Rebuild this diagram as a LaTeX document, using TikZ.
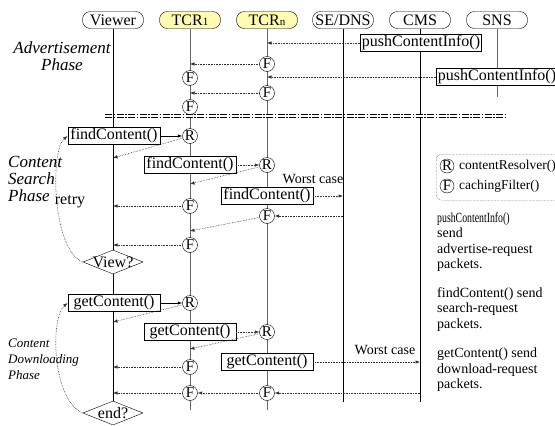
\documentclass[tikz,border=0pt]{standalone}
\usepackage{fontspec}
\setmainfont{Liberation Serif}
\usepackage{graphicx}
\usetikzlibrary{arrows.meta,positioning,calc,shapes.geometric}

\newcommand{\fsz}[1]{\fontsize{#1}{#1}\selectfont}

\begin{document}
\begin{tikzpicture}[x=1pt, y=-1pt, >={Latex[length=4.5pt,width=3.5pt]},
  head/.style={draw, rounded corners=8pt, minimum width=61pt, minimum height=17pt, inner sep=0pt, font=\fsz{16}},
  tcr/.style={head, fill=yellow!30},
  life/.style={line width=0.9pt},
  glife/.style={line width=0.9pt, black!60},
  call/.style={draw, fill=white, line width=0.8pt, minimum width=92pt, minimum height=15pt, inner sep=1.5pt, font=\fsz{16}},
  filt/.style={draw, circle, fill=white, inner sep=0pt, minimum size=15pt, font=\fsz{15}},
  msg/.style={->, densely dotted, line width=0.6pt, black!80},
  smsg/.style={->, line width=0.8pt},
  check/.style={draw, diamond, aspect=2.5, fill=white, inner sep=-2pt, minimum width=60pt, minimum height=24pt, font=\fsz{16}},
  phase/.style={font=\fsz{17}\itshape, align=left, anchor=west, inner sep=0pt},
  note/.style={font=\fontsize{14}{15.5}\selectfont, align=left, anchor=north west, inner sep=0pt}]
  \useasboundingbox (0,0) rectangle (555,426);

  % Lifelines and heads
  \node[head] (viewer) at (113,20) {Viewer};
  \node[tcr] (tcr1) at (190,20) {TCR{\fsz{11}1}};
  \node[tcr] (tcrn) at (267,20) {TCR{\fsz{11}n}};
  \node[head] (sedns) at (343,20) {SE/DNS};
  \node[head] (cms) at (420,20) {CMS};
  \node[head] (sns) at (497,20) {SNS};
  \coordinate (viewerb) at (113,410);
  \coordinate (tcr1b) at (190,410);
  \coordinate (tcrnb) at (267,410);
  \coordinate (sednsb) at (343,402);
  \coordinate (cmsb) at (420,402);
  \coordinate (snsb) at (497,97);
  \draw[life] (viewer) -- (viewerb);
  \draw[glife] (tcr1) -- (tcr1b);
  \draw[glife] (tcrn) -- (tcrnb);
  \draw[life] (sedns) -- (sednsb);
  \draw[life] (cms) -- (cmsb);
  \draw[glife] (sns) -- (snsb);

  % Advertisement phase
  \node[phase, align=center, anchor=center] (advph) at (62,56) {Advertisement\\Phase};
  \node[call] (push1) at (421,43) {pushContentInfo()};
  \draw[msg] (push1) -- (push1 -| tcrn);
  \node[filt] (fn1) at (267,64) {F};
  \draw[msg] (fn1) -- (fn1 -| tcr1);
  \node[filt] (f11) at (190,78) {F};
  \node[call] (push2) at (497,77) {pushContentInfo()};
  \draw[msg] (push2) -- (push2 -| tcrn);
  \node[filt] (fn2) at (267,93) {F};
  \draw[msg] (fn2) -- (fn2 -| tcr1);
  \node[filt] (f12) at (190,107) {F};

  % separator
  \coordinate (sepl) at (105,116);
  \coordinate (sepr) at (505,116);
  \draw[double, double distance=2.4pt, line width=0.6pt, dash pattern=on 7pt off 1.5pt on 1.5pt off 1.5pt] (sepl) -- (sepr);

  % Content search phase
  \node[phase] (srchph) at (8,179) {Content\\Search\\Phase};
  \node[call] (find1) at (114,136) {findContent()};
  \node[filt] (r1) at (190,136) {R};
  \draw[smsg] (find1) -- (r1);
  \coordinate (v1) at (113,158);
  \draw[msg] (r1) -- (v1);
  \node[call] (find2) at (190,165) {findContent()};
  \node[filt] (r2) at (267,165) {R};
  \draw[msg] (find2) -- (r2);
  \coordinate (t1) at (190,184);
  \draw[msg] (r2) -- (t1);
  \node[font=\fsz{14}] (worst1) at (313,179) {Worst case};
  \node[call] (find3) at (267,196) {findContent()};
  \draw[msg] (find3) -- (find3 -| sedns);
  \node[filt] (fs1) at (190,206) {F};
  \draw[msg] (fs1) -- (fs1 -| viewer);
  \node[filt] (fs2) at (267,216) {F};
  \draw[msg] (fs2 -| sedns) -- (fs2);
  \coordinate (t2) at (190,231);
  \draw[msg] (fs2) -- (t2);
  \node[filt] (fs3) at (190,245) {F};
  \draw[msg] (fs3) -- (fs3 -| viewer);
  \node[check] (view) at (113,262) {View?};
  \draw[msg] (view.west) .. controls (52,250) and (50,150) .. (find1.west);
  \node[font=\fsz{16}] (retry) at (70,202) {retry};

  % Content downloading phase
  \node[phase, font=\fontsize{13}{16}\selectfont\itshape] (dlph) at (8,359) {Content\\Downloading\\Phase};
  \node[call] (get1) at (114,303) {getContent()};
  \node[filt] (r3) at (190,303) {R};
  \draw[smsg] (get1) -- (r3);
  \coordinate (v2) at (113,322);
  \draw[msg] (r3) -- (v2);
  \node[call] (get2) at (190,332) {getContent()};
  \node[filt] (r4) at (267,332) {R};
  \draw[msg] (get2) -- (r4);
  \coordinate (t3) at (190,349);
  \draw[msg] (r4) -- (t3);
  \node[filt] (fd1) at (190,367) {F};
  \draw[msg] (fd1) -- (fd1 -| viewer);
  \node[font=\fsz{14}] (worst2) at (385,350) {Worst case};
  \node[call] (get3) at (267,362) {getContent()};
  \draw[msg] (get3) -- (get3 -| cms);
  \node[filt] (fd2) at (190,393) {F};
  \node[filt] (fd3) at (267,393) {F};
  \draw[msg] (fd3 -| cms) -- (fd3);
  \draw[msg] (fd3) -- (fd2);
  \draw[msg] (fd2) -- (fd2 -| viewer);
  \node[check] (endq) at (113,413) {end?};
  \draw[msg] (endq.west) .. controls (52,400) and (50,318) .. (get1.west);

  % legend and notes
  \node[draw, densely dotted, rounded corners=6pt, minimum width=130pt, minimum height=46pt, anchor=north west] (legend) at (436,154) {};
  \node[filt, minimum size=14pt, font=\fsz{15}] (lr) at (447,166) {R};
  \node[anchor=west, font=\fsz{13.5}, inner sep=1pt] (lrt) at (458,166) {contentResolver()};
  \node[filt, minimum size=14pt, font=\fsz{15}] (lf) at (447,186) {F};
  \node[anchor=west, font=\fsz{13.5}, inner sep=1pt] (lft) at (458,186) {cachingFilter()};
  \node[note] (note1) at (437,212) {\scalebox{0.7}[1]{pushContentInfo()}\\send\\advertise-request\\packets.};
  \node[note] (note2) at (437,287) {findContent() send\\search-request\\packets.};
  \node[note] (note3) at (437,348) {getContent() send\\download-request\\packets.};
\end{tikzpicture}
\end{document}
